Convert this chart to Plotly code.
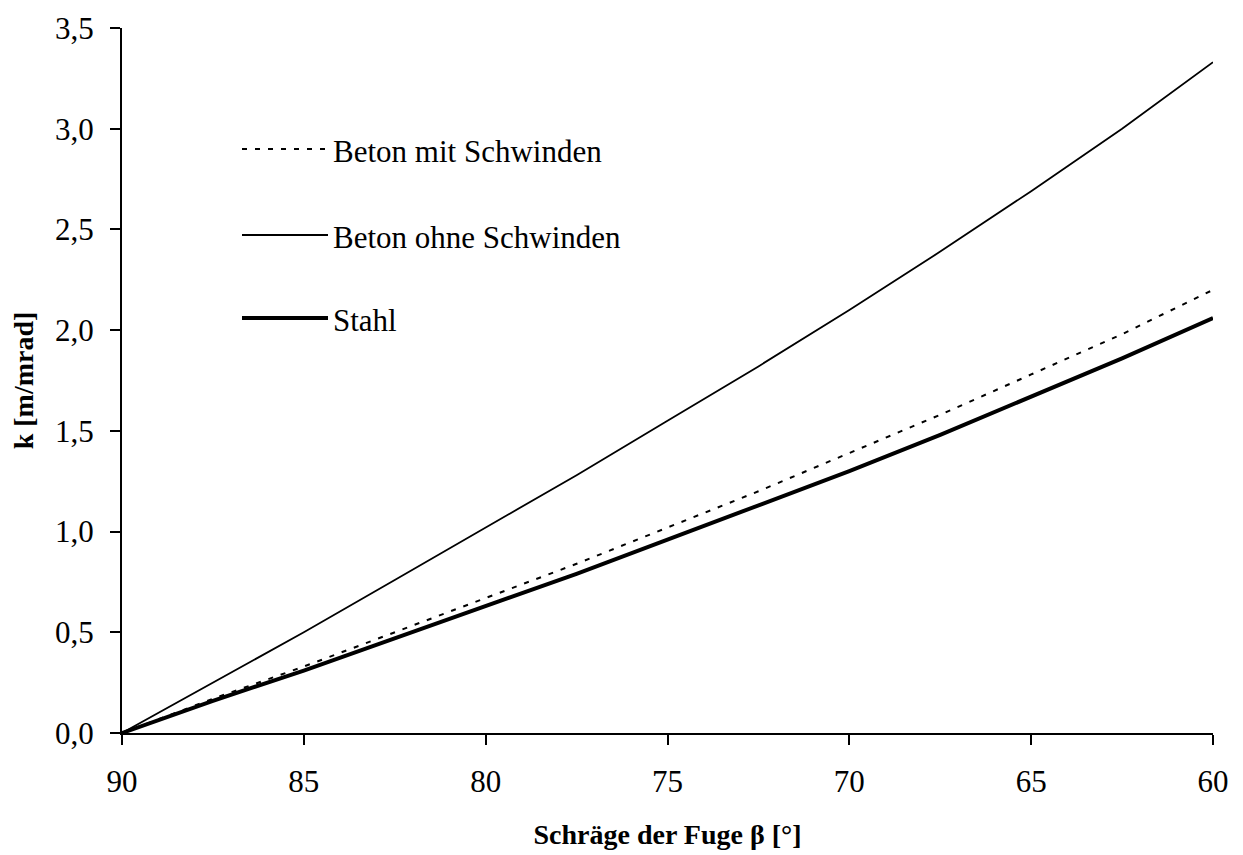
import plotly.graph_objects as go

# Data
beta = [90, 87.5, 85, 82.5, 80, 77.5, 75, 72.5, 70, 67.5, 65, 62.5, 60]
beton_mit = [0.00, 0.17, 0.33, 0.50, 0.67, 0.84, 1.02, 1.20, 1.39, 1.58, 1.78, 1.98, 2.20]
beton_ohne = [0.00, 0.25, 0.50, 0.76, 1.02, 1.28, 1.55, 1.82, 2.10, 2.39, 2.69, 3.00, 3.33]
stahl = [0.00, 0.16, 0.31, 0.47, 0.63, 0.79, 0.96, 1.13, 1.30, 1.48, 1.67, 1.86, 2.06]

series_names = ["Beton mit Schwinden", "Beton ohne Schwinden", "Stahl"]
x_ticks = [90, 85, 80, 75, 70, 65, 60]
y_ticks = [0, 0.5, 1.0, 1.5, 2.0, 2.5, 3.0, 3.5]
x_title = "Schräge der Fuge β [°]"
y_title = "k [m/mrad]"

W, H = 1243, 855
OFF = 8  # page body margin
# target plot area on screen: x 122..1213, y 28..733
ML = 122 - OFF
MT = 28 - OFF
MR = W - (1213 - OFF)
MB = H - (733 - OFF)
PW, PH = W - ML - MR, H - MT - MB

FONT = "Liberation Serif"

styles = [
    dict(color="black", width=2, dash="5px,8px"),
    dict(color="black", width=1.8),
    dict(color="black", width=4),
]
values = [beton_mit, beton_ohne, stahl]

fig = go.Figure()
for name, vals, st in zip(series_names, values, styles):
    fig.add_trace(go.Scatter(x=beta, y=vals, mode="lines", name=name,
                             line=st, showlegend=False))

# manual legend (long sample lines as in the reference)
def px_x(px):
    return (px - OFF - ML) / PW

def px_y(py):
    return (H - MB - (py - OFF)) / PH

legend_y = [149, 235, 318]
for name, st, ly in zip(series_names, styles, legend_y):
    fig.add_shape(type="line", xref="paper", yref="paper",
                  x0=px_x(242), x1=px_x(328), y0=px_y(ly), y1=px_y(ly),
                  line=st)
    fig.add_annotation(xref="paper", yref="paper", x=px_x(331), y=px_y(ly + 2),
                       xanchor="left", yanchor="middle", text=name, showarrow=False,
                       font=dict(family=FONT, size=31, color="black"))

fig.update_layout(
    width=W, height=H,
    margin=dict(l=ML, r=MR, t=MT, b=MB),
    paper_bgcolor="white", plot_bgcolor="white",
    separators=", ",
    font=dict(family=FONT, size=30, color="black"),
    xaxis=dict(range=[90, 60], tickvals=x_ticks, ticks="outside", ticklen=10,
               tickwidth=2, tickcolor="black", showline=True, linewidth=2,
               linecolor="black", showgrid=False, zeroline=False,
               automargin=False, ticklabelstandoff=10,
               tickfont=dict(family=FONT, size=31),
               title=dict(text="<b>" + x_title + "</b>", standoff=26,
                          font=dict(family=FONT, size=28))),
    yaxis=dict(range=[0, 3.5], tickvals=y_ticks, tickformat=".1f", ticks="outside",
               ticklen=10, tickwidth=2, tickcolor="black", showline=True,
               linewidth=2, linecolor="black", showgrid=False, zeroline=False,
               automargin=False, ticklabelstandoff=10,
               tickfont=dict(family=FONT, size=31),
               title=dict(text="<b>" + y_title + "</b>", standoff=28,
                          font=dict(family=FONT, size=28))),
)

fig.write_html("out.html")
